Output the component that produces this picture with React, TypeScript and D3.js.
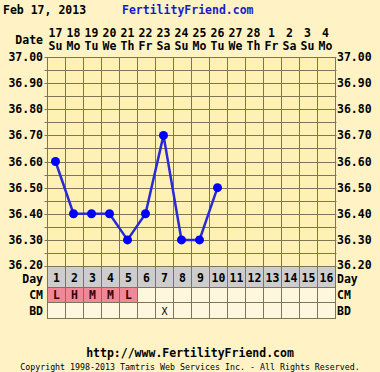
import { useEffect, useRef } from 'react';
import * as d3 from 'd3';

const dates = ['17', '18', '19', '20', '21', '22', '23', '24', '25', '26', '27', '28', '1', '2', '3', '4'];
const weekdays = ['Su', 'Mo', 'Tu', 'We', 'Th', 'Fr', 'Sa', 'Su', 'Mo', 'Tu', 'We', 'Th', 'Fr', 'Sa', 'Su', 'Mo'];
const cycleDays = [1, 2, 3, 4, 5, 6, 7, 8, 9, 10, 11, 12, 13, 14, 15, 16];
const temps = [36.6, 36.4, 36.4, 36.4, 36.3, 36.4, 36.7, 36.3, 36.3, 36.5];
const cervicalMucus = ['L', 'H', 'M', 'M', 'L'];
const intercourse = ['', '', '', '', '', '', 'X'];
const tempTicks = [37.0, 36.9, 36.8, 36.7, 36.6, 36.5, 36.4, 36.3, 36.2];

const W = 380;
const H = 372;
const FONT = '"DejaVu Sans Mono", monospace';

export default function App() {
  const svgRef = useRef<SVGSVGElement>(null);

  useEffect(() => {
    if (!svgRef.current) return;
    document.body.style.margin = '0';
    const svg = d3.select(svgRef.current);
    svg.selectAll('*').remove();

    const left = 46.5;
    const right = 334.5;
    const top = 57;
    const bottom = 266;

    const x = d3.scaleBand<number>().domain(cycleDays).range([left, right]);
    const y = d3.scaleLinear().domain([36.2, 37.0]).range([bottom, top]);
    const bw = x.bandwidth();

    // page background
    svg.append('rect').attr('width', W).attr('height', H).attr('fill', '#fff3c6');

    // header
    svg.append('text').attr('x', 3).attr('y', 14)
      .attr('font-family', FONT).attr('font-size', '11.5px').attr('font-weight', 'bold')
      .attr('fill', '#000').text('Feb 17, 2013');
    svg.append('text').attr('x', 122).attr('y', 14)
      .attr('font-family', FONT).attr('font-size', '11.5px').attr('font-weight', 'bold')
      .attr('fill', '#1a1acc').text('FertilityFriend.com');

    svg.append('text').attr('x', 43).attr('y', 44).attr('text-anchor', 'end')
      .attr('font-family', FONT).attr('font-size', '11.5px').attr('font-weight', 'bold')
      .text('Date');

    cycleDays.forEach((d, i) => {
      const cx = (x(d) ?? 0) + bw / 2;
      svg.append('text').attr('x', cx).attr('y', 37).attr('text-anchor', 'middle')
        .attr('font-family', FONT).attr('font-size', '11.5px').attr('font-weight', 'bold')
        .text(dates[i]);
      svg.append('text').attr('x', cx).attr('y', 50).attr('text-anchor', 'middle')
        .attr('font-family', FONT).attr('font-size', '11.5px').attr('font-weight', 'bold')
        .text(weekdays[i]);
    });

    // plot area
    svg.append('rect').attr('x', left).attr('y', top).attr('width', right - left).attr('height', bottom - top)
      .attr('fill', '#fff0b4');

    const gridColor = '#7f7458';
    // horizontal grid every 0.05
    d3.range(0, 17).forEach(k => {
      const v = 36.2 + k * 0.05;
      svg.append('line').attr('x1', left - 2).attr('x2', right + 2)
        .attr('y1', Math.round(y(v)) + 0.5).attr('y2', Math.round(y(v)) + 0.5)
        .attr('stroke', gridColor).attr('stroke-width', 1);
    });

    // vertical grid
    cycleDays.concat([17]).forEach((d, i) => {
      const gx = Math.round(left + i * bw) + 0.5;
      svg.append('line').attr('x1', gx).attr('x2', gx).attr('y1', top).attr('y2', 318)
        .attr('stroke', gridColor).attr('stroke-width', 1);
    });

    // temp labels
    tempTicks.forEach(t => {
      const ty = t === 36.2 ? y(t) + 3 : y(t) + 4;
      svg.append('text').attr('x', 43).attr('y', ty).attr('text-anchor', 'end')
        .attr('font-family', FONT).attr('font-size', '11.5px').attr('font-weight', 'bold')
        .text(t.toFixed(2));
      svg.append('text').attr('x', 337).attr('y', ty)
        .attr('font-family', FONT).attr('font-size', '11.5px').attr('font-weight', 'bold')
        .text(t.toFixed(2));
    });

    // rows below
    const rows = [
      { label: 'Day', y0: 266, y1: 287, base: 283 },
      { label: 'CM', y0: 287, y1: 302, base: 299 },
      { label: 'BD', y0: 302, y1: 318, base: 314.5 }
    ];

    cycleDays.forEach((d, i) => {
      const cx0 = Math.round(left + i * bw) + 0.5;
      const cw = Math.round(left + (i + 1) * bw) - Math.round(left + i * bw);
      // day cell
      svg.append('rect').attr('x', cx0).attr('y', rows[0].y0 + 0.5).attr('width', cw).attr('height', rows[0].y1 - rows[0].y0)
        .attr('fill', '#cdcdcd').attr('stroke', gridColor);
      svg.append('text').attr('x', cx0 + cw / 2).attr('y', 282).attr('text-anchor', 'middle')
        .attr('font-family', FONT).attr('font-size', '11.5px').attr('font-weight', 'bold')
        .text(String(d));
      // CM cell
      const cm = cervicalMucus[i] ?? '';
      svg.append('rect').attr('x', cx0).attr('y', rows[1].y0 + 0.5).attr('width', cw).attr('height', rows[1].y1 - rows[1].y0)
        .attr('fill', cm ? '#f08898' : '#fff6de').attr('stroke', gridColor);
      if (cm) {
        svg.append('text').attr('x', cx0 + cw / 2).attr('y', 299).attr('text-anchor', 'middle')
          .attr('font-family', FONT).attr('font-size', '11.5px').attr('font-weight', 'bold')
          .attr('fill', '#3a0000').text(cm);
      }
      // BD cell
      const bd = intercourse[i] ?? '';
      svg.append('rect').attr('x', cx0).attr('y', rows[2].y0 + 0.5).attr('width', cw).attr('height', rows[2].y1 - rows[2].y0)
        .attr('fill', '#fff6de').attr('stroke', gridColor);
      if (bd) {
        svg.append('text').attr('x', cx0 + cw / 2).attr('y', 315).attr('text-anchor', 'middle')
          .attr('font-family', FONT).attr('font-size', '10px')
          .text(bd);
      }
    });

    rows.forEach(r => {
      svg.append('text').attr('x', 43).attr('y', r.base).attr('text-anchor', 'end')
        .attr('font-family', FONT).attr('font-size', '11.5px').attr('font-weight', 'bold')
        .text(r.label);
      svg.append('text').attr('x', 337).attr('y', r.base)
        .attr('font-family', FONT).attr('font-size', '11.5px').attr('font-weight', 'bold')
        .text(r.label);
    });

    // temperature line
    const line = d3.line<number>()
      .x((_, i) => (x(cycleDays[i]) ?? 0) + bw / 2)
      .y(v => y(v));
    svg.append('path').datum(temps).attr('d', line)
      .attr('fill', 'none').attr('stroke', '#2a2ad6').attr('stroke-width', 2.5);
    temps.forEach((v, i) => {
      svg.append('circle').attr('cx', (x(cycleDays[i]) ?? 0) + bw / 2).attr('cy', y(v)).attr('r', 4.5)
        .attr('fill', '#0000ff');
    });

    // footer
    svg.append('text').attr('x', W / 2).attr('y', 357).attr('text-anchor', 'middle')
      .attr('font-family', FONT).attr('font-size', '11.5px').attr('font-weight', 'bold')
      .text('http://www.FertilityFriend.com');
    svg.append('text').attr('x', W / 2).attr('y', 370).attr('text-anchor', 'middle')
      .attr('font-family', FONT).attr('font-size', '8.3px')
      .text('Copyright 1998-2013 Tamtris Web Services Inc. - All Rights Reserved.');
  }, []);

  return <svg ref={svgRef} width={W} height={H} style={{ display: 'block' }} />;
}
